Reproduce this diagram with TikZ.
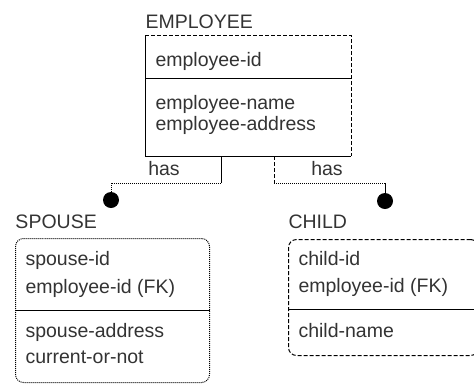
\documentclass[tikz,border=0pt]{standalone}
\usepackage{fontspec}
\setmainfont{Liberation Sans}
\begin{document}
\begin{tikzpicture}[x=1pt, y=-1pt, line width=1pt,
  every node/.style={font=\fontsize{19.5}{23}\selectfont, text=black!80},
  attr/.style={anchor=west, inner sep=0pt},
  title/.style={anchor=west, inner sep=0pt},
  brokenline/.style={dash pattern=on 4pt off 2pt},
  entity/.style={rectangle, anchor=north west, inner sep=0pt},
  depentity/.style={entity, draw, rounded corners=8pt},
  dotend/.style={circle, fill=black, inner sep=0pt, minimum size=16pt}]
  \useasboundingbox (0,0) rectangle (474,384);
  % independent entity
  \node[title] (empT) at (145,22) {EMPLOYEE};
  \node[entity, minimum width=205pt, minimum height=120pt] (emp) at (145,35) {};
  \draw (emp.north west) -- (emp.south west) -- (emp.south east);
  \draw[brokenline] (emp.north west) -- (emp.north east) -- (emp.south east);
  \draw (emp.west |- 0,78) -- (emp.east |- 0,78);
  \node[attr] (empK) at (155,61) {employee-id};
  \node[attr] (empA1) at (155,104) {employee-name};
  \node[attr] (empA2) at (155,125) {employee-address};
  % dependent entities
  \node[title] (spoT) at (15,222) {SPOUSE};
  \node[depentity, densely dotted, minimum width=194pt, minimum height=144pt] (spo) at (15,238) {};
  \draw (spo.west |- 0,310) -- (spo.east |- 0,310);
  \node[attr] (spoK1) at (25,260) {spouse-id};
  \node[attr] (spoK2) at (25,288) {employee-id (FK)};
  \node[attr] (spoA1) at (25,332) {spouse-address};
  \node[attr] (spoA2) at (25,357) {current-or-not};
  \node[title] (chiT) at (288,222) {CHILD};
  \node[depentity, brokenline, minimum width=190pt, minimum height=116pt] (chi) at (288,239) {};
  \draw (chi.west |- 0,309) -- (chi.east |- 0,309);
  \node[attr] (chiK1) at (298,259) {child-id};
  \node[attr] (chiK2) at (298,287) {employee-id (FK)};
  \node[attr] (chiA1) at (298,331) {child-name};
  % relationships
  \node[dotend] (dotS) at (111,200) {};
  \node[dotend] (dotC) at (385,201) {};
  \coordinate (rootS) at (221,183); \coordinate (kneeS) at (111,183);
  \coordinate (rootC) at (274,183); \coordinate (kneeC) at (385,183);
  \draw (emp.south -| rootS) -- (rootS);
  \draw[densely dotted] (rootS) -- (kneeS) -- (dotS);
  \draw[brokenline] (emp.south -| rootC) -- (rootC);
  \draw[densely dotted] (rootC) -- (kneeC);
  \draw (kneeC) -- (dotC);
  \node (hasS) at (164,169) {has};
  \node (hasC) at (327,169) {has};
\end{tikzpicture}
\end{document}
